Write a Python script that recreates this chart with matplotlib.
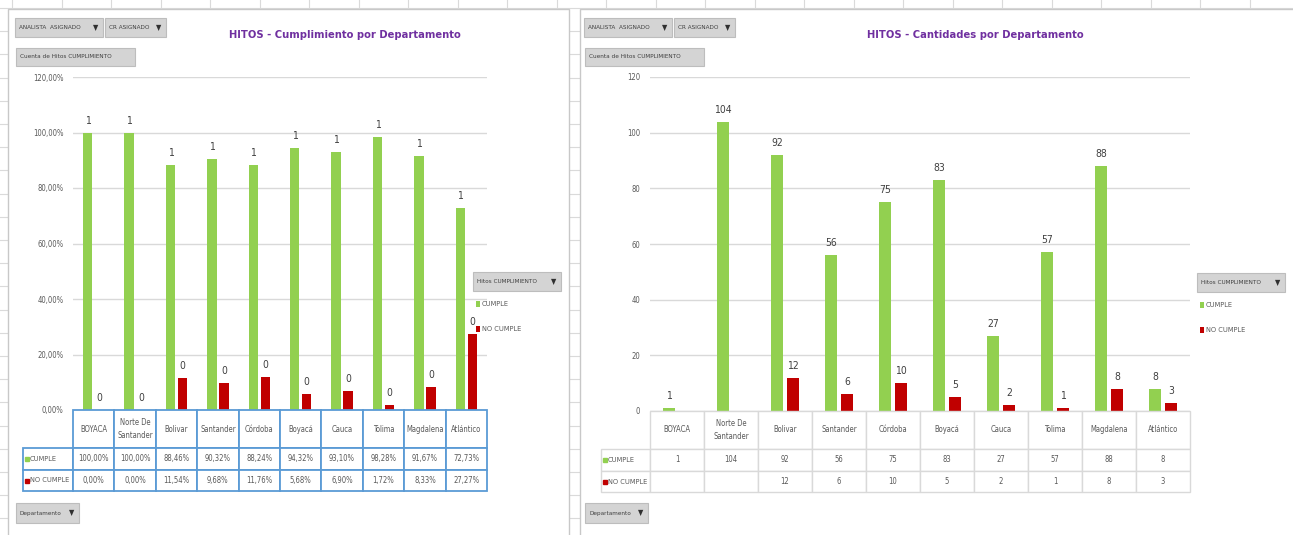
import matplotlib.pyplot as plt
import numpy as np
from matplotlib.patches import Rectangle

plt.rcParams['font.family'] = ['DejaVu Sans']
plt.rcParams['font.stretch'] = 'condensed'

departamentos = ['BOYACA', 'Norte De\nSantander', 'Bolivar', 'Santander', 'Córdoba',
                 'Boyacá', 'Cauca', 'Tolima', 'Magdalena', 'Atlántico']
pct_cumple = [100.00, 100.00, 88.46, 90.32, 88.24, 94.32, 93.10, 98.28, 91.67, 72.73]
pct_no_cumple = [0.00, 0.00, 11.54, 9.68, 11.76, 5.68, 6.90, 1.72, 8.33, 27.27]
cant_cumple = [1, 104, 92, 56, 75, 83, 27, 57, 88, 8]
cant_no_cumple = [np.nan, np.nan, 12, 6, 10, 5, 2, 1, 8, 3]
eje_ticks = [0, 20, 40, 60, 80, 100, 120]
series = ['CUMPLE', 'NO CUMPLE']

VERDE = '#92D050'
ROJO = '#C00000'
GRIS = '#595959'
MORADO = '#7030A0'

W, H = 1293, 535
fig = plt.figure(figsize=(W / 100, H / 100), dpi=100)


def rect(x0, y0, x1, y1):
    return [x0 / W, 1 - y1 / H, (x1 - x0) / W, (y1 - y0) / H]


# fondo tipo hoja de excel
bg = fig.add_axes([0, 0, 1, 1])
bg.set_xlim(0, W)
bg.set_ylim(H, 0)
bg.axis('off')
for y in np.arange(8, H, 23.2):
    bg.plot([0, W], [y, y], color='#DADADA', lw=0.8, zorder=1)
for x in np.arange(12, W, 49.5):
    bg.plot([x, x], [0, H], color='#DADADA', lw=0.8, zorder=1)
bg.add_patch(Rectangle((8, 9), 561, 530, facecolor='white', edgecolor='#C8C8C8', lw=1, zorder=3))
bg.add_patch(Rectangle((580, 9), 716, 530, facecolor='white', edgecolor='#C8C8C8', lw=1, zorder=3))


def grafico(px_plot, px_tabla, verde, rojo, fmt_tick, fmt_etq, fmt_celda, leg_px, color_tabla, lw_tabla):
    ax = fig.add_axes(rect(*px_plot))
    ax.set_facecolor('none')
    x = np.arange(len(departamentos))
    ancho = 0.23
    ax.bar(x - 0.145, verde, ancho, color=VERDE, zorder=2)
    ax.bar(x + 0.145, rojo, ancho, color=ROJO, zorder=2)
    for xi, v in zip(x, verde):
        if not np.isnan(v):
            ax.annotate(fmt_etq(v), (xi - 0.145, v), xytext=(0, 5), textcoords='offset points',
                        ha='center', va='bottom', fontsize=7.5, color='#404040')
    for xi, v in zip(x, rojo):
        if not np.isnan(v):
            ax.annotate(fmt_etq(v), (xi + 0.145, v), xytext=(0, 5), textcoords='offset points',
                        ha='center', va='bottom', fontsize=7.5, color='#404040')
    ax.set_xlim(-0.5, len(departamentos) - 0.5)
    ax.set_ylim(0, 120)
    ax.set_yticks(eje_ticks)
    ax.set_yticklabels([fmt_tick(t) for t in eje_ticks], fontsize=5.5, color=GRIS)
    ax.tick_params(axis='y', length=0, pad=7)
    ax.set_xticks([])
    ax.grid(axis='y', color='#D9D9D9', lw=1, zorder=0)
    for s in ax.spines.values():
        s.set_visible(False)

    # tabla de datos bajo el eje
    tx = fig.add_axes(rect(*px_tabla), sharex=ax)
    tx.set_facecolor('none')
    tx.set_ylim(81, 0)
    tx.axis('off')
    unidad = (px_plot[2] - px_plot[0]) / len(departamentos)
    x_leg = -0.5 - leg_px / unidad
    filas = [(0, 38), (38, 60), (60, 81)]
    for i, nombre in enumerate(departamentos):
        tx.add_patch(Rectangle((i - 0.5, 0), 1, 38, facecolor='white', edgecolor=color_tabla,
                               lw=lw_tabla, clip_on=False))
        tx.text(i, 19, nombre, ha='center', va='center', fontsize=5.5, color=GRIS,
                linespacing=1.6, clip_on=False)
    for (y0, y1), nombre, valores, col in zip(filas[1:], series, [verde, rojo], [VERDE, ROJO]):
        tx.add_patch(Rectangle((x_leg, y0), -0.5 - x_leg, y1 - y0, facecolor='white',
                               edgecolor=color_tabla, lw=lw_tabla, clip_on=False))
        tx.plot([x_leg + 4 / unidad], [(y0 + y1) / 2], marker='s', ms=3.5, color=col,
                clip_on=False, ls='none')
        tx.text(x_leg + 7 / unidad, (y0 + y1) / 2, nombre, ha='left', va='center',
                fontsize=5.3, color=GRIS, clip_on=False)
        for i, v in enumerate(valores):
            tx.add_patch(Rectangle((i - 0.5, y0), 1, y1 - y0, facecolor='white',
                                   edgecolor=color_tabla, lw=lw_tabla, clip_on=False))
            if not np.isnan(v):
                tx.text(i, (y0 + y1) / 2, fmt_celda(v), ha='center', va='center',
                        fontsize=5.5, color=GRIS, clip_on=False)
    return ax


def pct_txt(v):
    return f'{v:.2f}%'.replace('.', ',')


grafico((73, 77, 487, 410), (73, 410, 487, 491),
        np.array(pct_cumple), np.array(pct_no_cumple),
        pct_txt, lambda v: f'{v / 100:.0f}', pct_txt, 50, '#5B9BD5', 1.3)
grafico((650, 77, 1190, 411), (650, 411, 1190, 492),
        np.array(cant_cumple, dtype=float), np.array(cant_no_cumple, dtype=float),
        lambda t: f'{t}', lambda v: f'{v:.0f}', lambda v: f'{v:.0f}', 49, '#D9D9D9', 1.0)

# capa superior: titulos, botones y leyendas
top = fig.add_axes([0, 0, 1, 1])
top.set_xlim(0, W)
top.set_ylim(H, 0)
top.axis('off')
top.patch.set_alpha(0)


def boton(x0, y0, x1, y1, texto, flecha=True):
    top.add_patch(Rectangle((x0, y0), x1 - x0, y1 - y0, facecolor='#D4D4D4',
                            edgecolor='#BDBDBD', lw=0.8))
    top.text(x0 + 4, (y0 + y1) / 2, texto, fontsize=4.6, color='#404040', va='center', ha='left')
    if flecha:
        top.text(x1 - 7, (y0 + y1) / 2, '▼', fontsize=5.5, color='#303030', va='center',
                 ha='center')


def leyenda(x0, y0):
    boton(x0, y0, x0 + 88, y0 + 19, 'Hitos CUMPLIMIENTO')
    for k, (nombre, col) in enumerate(zip(series, [VERDE, ROJO])):
        yy = y0 + 32 + 25 * k
        top.add_patch(Rectangle((x0 + 3, yy - 3), 4, 6, facecolor=col, edgecolor='none'))
        top.text(x0 + 9, yy, nombre, fontsize=5.3, color=GRIS, va='center', ha='left')


for dx, titulo, tx_c in [(0, 'HITOS - Cumplimiento por Departamento', 345),
                         (569, 'HITOS - Cantidades por Departamento', 975)]:
    boton(15 + dx, 18, 103 + dx, 37, 'ANALISTA  ASIGNADO')
    boton(105 + dx, 18, 166 + dx, 37, 'CR ASIGNADO')
    boton(16 + dx, 48, 135 + dx, 66, 'Cuenta de Hitos CUMPLIMIENTO', flecha=False)
    boton(16 + dx, 503, 79 + dx, 523, 'Departamento')
    top.text(tx_c, 35, titulo, fontsize=8, fontweight='bold', color=MORADO,
             ha='center', va='center')

leyenda(473, 272)
leyenda(1197, 273)

fig.savefig('out.png', dpi=100)
